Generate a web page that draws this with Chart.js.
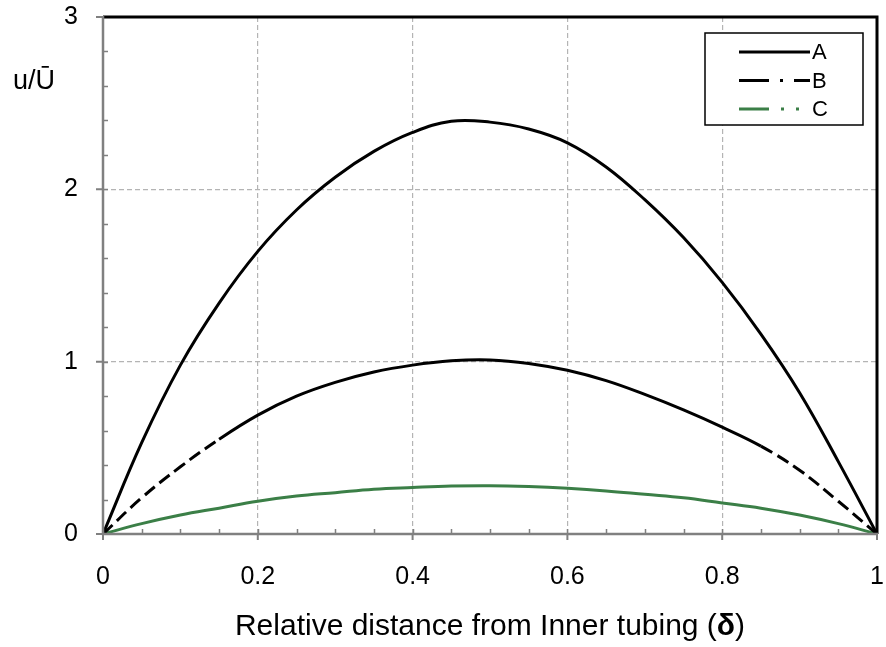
<!DOCTYPE html>
<html>
<head>
<meta charset="utf-8">
<title>Velocity profiles</title>
<script src="https://cdn.jsdelivr.net/npm/chart.js@4.4.1/dist/chart.umd.min.js"></script>
<style>
  html, body { margin: 0; padding: 0; background: #fff; }
</style>
</head>
<body>
<canvas id="profile-chart" width="886" height="647"></canvas>
<script>
// relative position across the gap and the three velocity profiles
const delta = [0, 0.05, 0.1, 0.15, 0.2, 0.25, 0.3, 0.35, 0.4, 0.45, 0.5, 0.55, 0.6, 0.65, 0.7, 0.75, 0.8, 0.85, 0.9, 0.95, 1];
const profileA = [0, 0.53, 0.98, 1.34, 1.64, 1.88, 2.07, 2.22, 2.33, 2.395, 2.39, 2.35, 2.27, 2.13, 1.94, 1.72, 1.46, 1.16, 0.82, 0.42, 0];
const profileB = [0, 0.21, 0.39, 0.55, 0.69, 0.8, 0.88, 0.94, 0.98, 1.005, 1.01, 0.99, 0.95, 0.89, 0.81, 0.72, 0.62, 0.51, 0.37, 0.19, 0];
const profileC = [0, 0.06, 0.11, 0.15, 0.19, 0.22, 0.24, 0.26, 0.27, 0.278, 0.28, 0.275, 0.265, 0.25, 0.23, 0.21, 0.18, 0.15, 0.11, 0.06, 0];
const seriesNames = ["A", "B", "C"];
const xTicks = [0, 0.2, 0.4, 0.6, 0.8, 1];
const yTicks = [0, 1, 2, 3];

const FONT = "'Liberation Sans', Arial, sans-serif";
const GREEN = "#3b7f47";
const points = (ys) => delta.map((x, i) => ({ x: x, y: ys[i] }));

// grid lines only between the edges, the frame covers the rest
const gridColor = (ctx) => {
  const v = ctx.tick ? ctx.tick.value : null;
  return v === 0 || v === ctx.scale.max ? "rgba(0,0,0,0)" : "#b4b4b4";
};

// keep the plot area where layout.padding puts it
const noScalePadding = (scale) => {
  scale.paddingTop = 0;
  scale.paddingBottom = 0;
  scale.paddingLeft = 0;
  scale.paddingRight = 0;
};

// frame, tick marks, titles and the boxed legend
const decorations = {
  id: "decorations",
  afterDraw(chart) {
    const { ctx, chartArea: a, scales } = chart;
    const xs = scales.x, ys = scales.y;
    ctx.save();

    // minor ticks point into the plot
    ctx.strokeStyle = "#808080";
    ctx.lineWidth = 1.5;
    ctx.beginPath();
    for (let i = 1; i < 20; i++) {
      const px = Math.round(xs.getPixelForValue(i * 0.05)) + 0.5;
      ctx.moveTo(px, a.bottom);
      ctx.lineTo(px, a.bottom - 5);
    }
    for (let i = 1; i < 15; i++) {
      const py = Math.round(ys.getPixelForValue(i * 0.2)) + 0.5;
      ctx.moveTo(a.left, py);
      ctx.lineTo(a.left + 5, py);
    }
    ctx.stroke();

    // major ticks outside
    ctx.lineWidth = 2;
    ctx.beginPath();
    xTicks.forEach((v) => {
      const px = xs.getPixelForValue(v);
      ctx.moveTo(px, a.bottom);
      ctx.lineTo(px, a.bottom + 6);
    });
    yTicks.forEach((v) => {
      const py = ys.getPixelForValue(v);
      ctx.moveTo(a.left, py);
      ctx.lineTo(a.left - 7, py);
    });
    ctx.stroke();

    // top and right edges black, axes grey
    ctx.strokeStyle = "#000";
    ctx.lineWidth = 3;
    ctx.beginPath();
    ctx.moveTo(a.left, a.top);
    ctx.lineTo(a.right, a.top);
    ctx.lineTo(a.right, a.bottom);
    ctx.stroke();
    ctx.strokeStyle = "#808080";
    ctx.lineWidth = 2.5;
    ctx.beginPath();
    ctx.moveTo(a.left, a.top - 1);
    ctx.lineTo(a.left, a.bottom);
    ctx.lineTo(a.right + 1, a.bottom);
    ctx.stroke();

    // axis titles
    ctx.fillStyle = "#000";
    ctx.textBaseline = "middle";
    ctx.textAlign = "center";
    ctx.font = "27px " + FONT;
    ctx.fillText("u/\u016A", 34, 82);

    const pre = "Relative distance from Inner tubing (";
    const sym = "\u03B4";
    const post = ")";
    const normal = "30px " + FONT;
    const bold = "bold 30px " + FONT;
    ctx.font = normal;
    const w1 = ctx.measureText(pre).width, w3 = ctx.measureText(post).width;
    ctx.font = bold;
    const w2 = ctx.measureText(sym).width;
    let tx = (a.left + a.right) / 2 - (w1 + w2 + w3) / 2;
    const ty = 627;
    ctx.textAlign = "left";
    ctx.font = normal;
    ctx.fillText(pre, tx, ty);
    tx += w1;
    ctx.font = bold;
    ctx.fillText(sym, tx, ty);
    tx += w2;
    ctx.font = normal;
    ctx.fillText(post, tx, ty);

    // legend
    const box = { left: 705, top: 33, right: 863, bottom: 125 };
    ctx.fillStyle = "#fff";
    ctx.fillRect(box.left, box.top, box.right - box.left, box.bottom - box.top);
    ctx.strokeStyle = "#000";
    ctx.lineWidth = 1.5;
    ctx.strokeRect(box.left, box.top, box.right - box.left, box.bottom - box.top);
    const swatchDash = [[], [30, 11, 3, 11], [30, 12, 3, 12, 3, 12]];
    chart.data.datasets.forEach((ds, i) => {
      const ly = 52 + i * 28.5;
      ctx.strokeStyle = ds.borderColor;
      ctx.lineWidth = 3;
      ctx.setLineDash(swatchDash[i]);
      ctx.beginPath();
      ctx.moveTo(739, ly);
      ctx.lineTo(810, ly);
      ctx.stroke();
      ctx.setLineDash([]);
      ctx.fillStyle = "#000";
      ctx.font = "22px " + FONT;
      ctx.textAlign = "left";
      ctx.fillText(ds.label, 812, ly + 1);
    });

    ctx.restore();
  }
};

const tickFont = { family: FONT, size: 25 };

new Chart(document.getElementById("profile-chart"), {
  type: "line",
  data: {
    datasets: [
      {
        label: seriesNames[0],
        data: points(profileA),
        borderColor: "#000",
        borderWidth: 3,
        pointRadius: 0,
        tension: 0.4
      },
      {
        label: seriesNames[1],
        data: points(profileB),
        borderColor: "#000",
        borderWidth: 3,
        pointRadius: 0,
        tension: 0.4,
        // dashes only show near the walls
        segment: {
          borderDash: (ctx) =>
            ctx.p1.parsed.x <= 0.15 || ctx.p0.parsed.x >= 0.85 ? [13, 6] : undefined
        }
      },
      {
        label: seriesNames[2],
        data: points(profileC),
        borderColor: GREEN,
        borderWidth: 3,
        pointRadius: 0,
        tension: 0.4
      }
    ]
  },
  options: {
    responsive: false,
    animation: false,
    layout: { padding: { top: 17, right: 9, left: 0, bottom: 0 } },
    plugins: {
      legend: { display: false },
      tooltip: { enabled: false }
    },
    scales: {
      x: {
        type: "linear",
        min: 0,
        max: 1,
        afterBuildTicks: (scale) => {
          scale.ticks = xTicks.map((v) => ({ value: v }));
        },
        afterFit: (scale) => {
          scale.height = 113;
          noScalePadding(scale);
        },
        ticks: {
          font: tickFont,
          color: "#000",
          padding: 28,
          maxRotation: 0,
          callback: (v) => String(v)
        },
        grid: { color: gridColor, lineWidth: 1.2, drawTicks: false },
        border: { display: false, dash: [5, 3] }
      },
      y: {
        min: 0,
        max: 3,
        afterBuildTicks: (scale) => {
          scale.ticks = yTicks.map((v) => ({ value: v }));
        },
        afterFit: (scale) => {
          scale.width = 103;
          noScalePadding(scale);
        },
        ticks: {
          font: tickFont,
          color: "#000",
          padding: 25,
          callback: (v) => String(v)
        },
        grid: { color: gridColor, lineWidth: 1.2, drawTicks: false },
        border: { display: false, dash: [5, 3] }
      }
    }
  },
  plugins: [decorations]
});
</script>
</body>
</html>
